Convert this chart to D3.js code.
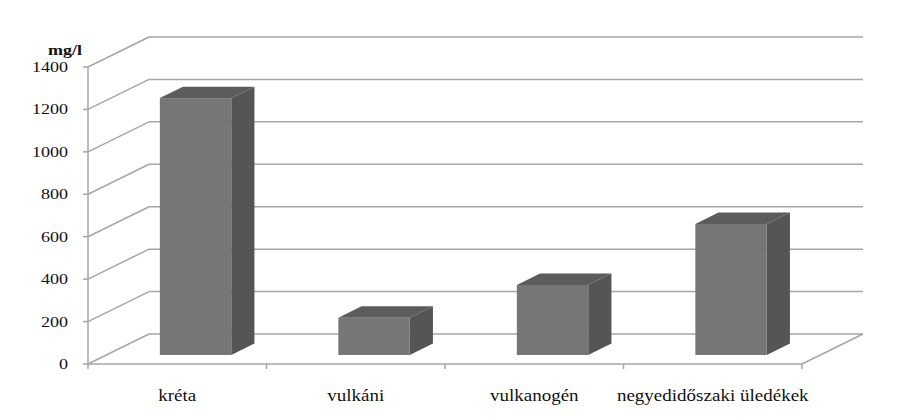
<!DOCTYPE html>
<html><head><meta charset="utf-8">
<script src="https://cdn.jsdelivr.net/npm/d3@7"></script>
<style>html,body{margin:0;padding:0;background:#fff;}svg{display:block;}
text{font-family:"Liberation Serif","Times New Roman",Tinos,"DejaVu Serif",serif;}</style>
</head><body>
<svg id="c" width="919" height="418"></svg>
<script>
const categories = ["kréta", "vulkáni", "vulkanogén", "negyedidőszaki üledékek"];
const values = [1211, 176, 330, 618];
const yTicks = [0, 200, 400, 600, 800, 1000, 1200, 1400];
const unitLabel = "mg/l";

const svg = d3.select("#c");
const x0 = 88, x1 = 802, yBottom = 364, yTop = 67;
const depthX = 61, depthY = -30;
const x = d3.scaleBand().domain(categories).range([x0, x1]).padding(0);
const y = d3.scaleLinear().domain([0, 1400]).range([yBottom, yTop]);
const grid = "#a6a6a6";

// walls gridlines
const g = svg.append("g");
yTicks.forEach(v => {
  g.append("line").attr("x1", x0).attr("y1", y(v)).attr("x2", x0 + depthX).attr("y2", y(v) + depthY)
    .attr("stroke", grid).attr("stroke-width", 1.5);
  g.append("line").attr("x1", x0 + depthX).attr("y1", y(v) + depthY).attr("x2", x1 + depthX).attr("y2", y(v) + depthY)
    .attr("stroke", grid).attr("stroke-width", 1.5);
});
// floor right edge
g.append("line").attr("x1", x1).attr("y1", y(0)).attr("x2", x1 + depthX).attr("y2", y(0) + depthY)
  .attr("stroke", grid).attr("stroke-width", 1.5);
// axes
g.append("line").attr("x1", x0).attr("y1", y(0)).attr("x2", x0).attr("y2", y(1400)).attr("stroke", grid).attr("stroke-width", 1.5);
g.append("line").attr("x1", x0).attr("y1", y(0)).attr("x2", x1).attr("y2", y(0)).attr("stroke", grid).attr("stroke-width", 1.5);
yTicks.forEach(v => {
  g.append("line").attr("x1", x0 - 5).attr("y1", y(v)).attr("x2", x0).attr("y2", y(v)).attr("stroke", grid).attr("stroke-width", 1.5);
});
const bounds = categories.map(c => x(c)).concat([x1]);
bounds.forEach(bx => {
  g.append("line").attr("x1", bx).attr("y1", y(0)).attr("x2", bx).attr("y2", y(0) + 5).attr("stroke", grid).attr("stroke-width", 1.5);
});

// bars
const f1 = 0.3, f2 = 0.68;
const bw = x.bandwidth() * 0.4;
const bars = svg.append("g");
categories.forEach((c, i) => {
  const cx = x(c) + x.bandwidth() / 2;
  const l = cx - bw / 2 + f1 * depthX, r = l + bw;
  const b = y(0) + f1 * depthY, t = y(values[i]) + f1 * depthY;
  const ddx = (f2 - f1) * depthX, ddy = (f2 - f1) * depthY;
  bars.append("path").attr("d", `M${r},${b}L${r + ddx},${b + ddy}L${r + ddx},${t + ddy}L${r},${t}Z`).attr("fill", "#555555");
  bars.append("path").attr("d", `M${l},${t}L${r},${t}L${r + ddx},${t + ddy}L${l + ddx},${t + ddy}Z`).attr("fill", "#5c5c5c");
  bars.append("rect").attr("x", l).attr("y", t).attr("width", bw).attr("height", b - t).attr("fill", "#767676");
});

// labels
yTicks.forEach(v => {
  svg.append("text").attr("transform", `translate(68,${y(v) + 5}) scale(1.2,1)`)
    .attr("text-anchor", "end").attr("font-size", 15).attr("fill", "#111").text(v);
});
svg.append("text").attr("transform", `translate(48,55) scale(1.2,1)`)
  .attr("font-size", 15).attr("font-weight", "bold").attr("fill", "#111").text(unitLabel);
categories.forEach(c => {
  svg.append("text").attr("transform", `translate(${x(c) + x.bandwidth() / 2},401) scale(1.12,1)`)
    .attr("text-anchor", "middle").attr("font-size", 17).attr("fill", "#111").text(c);
});
</script>
</body></html>
